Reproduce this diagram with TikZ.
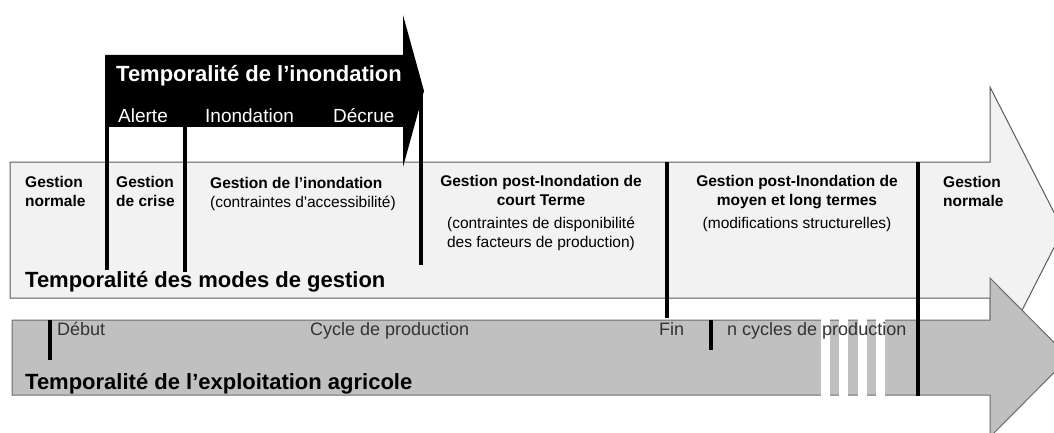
\documentclass[tikz,border=0pt]{standalone}
\usepackage{fontspec}
\setmainfont{Liberation Sans}
\usepackage{tikz}
\usetikzlibrary{calc,shapes,arrows}
\definecolor{lightarrow}{HTML}{F2F2F2}
\definecolor{grayarrow}{HTML}{C0C0C0}
\definecolor{edgegray}{HTML}{5A5A5A}
\tikzset{
   timeline arrow/.style={draw=edgegray,line width=1pt},
   sep line/.style={black,line width=4pt},
   big title/.style={anchor=base west,inner sep=0pt,font=\fontsize{22}{26}\selectfont\bfseries},
   phase node/.style={anchor=base west,inner sep=0pt,text=white,font=\fontsize{19}{22}\selectfont},
   mode node/.style={anchor=base west,inner sep=0pt,align=left,font=\fontsize{15.5}{18.5}\selectfont\bfseries},
   mode center/.style={anchor=base,inner sep=0pt,align=center,font=\fontsize{15.5}{18.5}\selectfont},
   cycle node/.style={anchor=base west,inner sep=0pt,text=black!80,font=\fontsize{18}{21}\selectfont}
}

\begin{document}
\begin{tikzpicture}[x=1pt,y=-1pt]
\path[use as bounding box] (0,0) rectangle (1054,433);
\clip (0,0) rectangle (1054,433);
% modes de gestion
\draw[timeline arrow,fill=lightarrow] (10,162) -- (990,162) -- (990,87) -- (1063,230)
   -- (990,373) -- (990,298) -- (10,298) -- cycle;
% exploitation agricole
\draw[timeline arrow,fill=grayarrow,draw=edgegray!90] (12,320) -- (990,320) -- (990,278)
   -- (1069,357.5) -- (990,437) -- (990,395) -- (12,395) -- cycle;
\foreach \sx in {821,839,858,876}
   \fill[white] (\sx,318) rectangle ++(9,79);
% inondation
\fill[black] (106,55) -- (403,55) -- (403,15) -- (424,91) -- (403,167) -- (403,127)
   -- (106,127) -- cycle;
%
\draw[sep line] (107,55) -- (107,270);
\draw[sep line] (185,127) -- (185,272);
\draw[sep line] (421,90) -- (421,265);
\draw[sep line] (667,162) -- (667,318);
\draw[sep line] (918,162) -- (918,396);
\draw[sep line] (50,320) -- (50,360);
\draw[sep line] (711,320) -- (711,350);
%
\node[big title,text=white] (tinond) at (116,82) {Temporalité de l’inondation};
\node[phase node] (alerte) at (118,123) {Alerte};
\node[phase node] (inond)  at (205,123) {Inondation};
\node[phase node] (decrue) at (333,123) {Décrue};
%
\node[mode node] (normal1) at (25,206)  {Gestion\\normale};
\node[mode node] (crise)   at (116,206) {Gestion\\de crise};
\node[mode node] (ginond)  at (210,207) {Gestion de l’inondation\\\mdseries(contraintes d\textquotesingle accessibilité)};
\node[mode center,font=\fontsize{15.5}{18.5}\selectfont\bfseries] (court) at (541,205)
   {Gestion post-Inondation de\\court Terme};
\node[mode center] (courtc) at (541,247) {(contraintes de disponibilité\\des facteurs de production)};
\node[mode center,font=\fontsize{15.5}{18.5}\selectfont\bfseries] (moyen) at (797,205)
   {Gestion post-Inondation de\\moyen et long termes};
\node[mode center] (moyenc) at (797,228) {(modifications structurelles)};
\node[mode node] (normal2) at (943,206) {Gestion\\normale};
\node[big title] (tmodes) at (25,287) {Temporalité des modes de gestion};
%
\node[cycle node] (debut)   at (57,335)  {Début};
\node[cycle node] (cycle)   at (310,335) {Cycle de production};
\node[cycle node] (fin)     at (659,335) {Fin};
\node[cycle node] (ncycles) at (727,335) {n cycles de production};
\node[big title] (texpl) at (25,389) {Temporalité de l’exploitation agricole};
\end{tikzpicture}
\end{document}
